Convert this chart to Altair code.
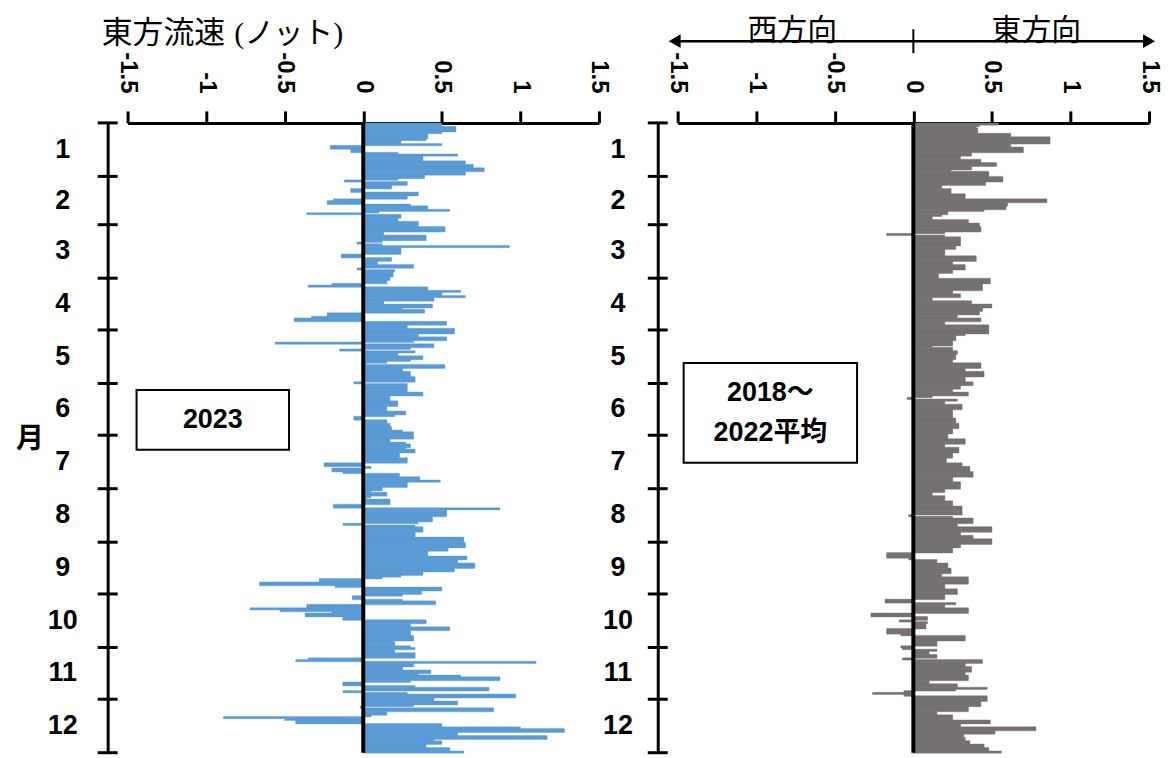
import altair as alt
import pandas as pd

# ---------------- data ----------------
month_labels = ["1", "2", "3", "4", "5", "6", "7", "8", "9", "10", "11", "12"]
month_days = [31, 28, 31, 30, 31, 30, 31, 31, 30, 31, 30, 31]
tick_values = [-1.5, -1, -0.5, 0, 0.5, 1, 1.5]

# 2023 daily eastward current (knots)
jan_2023 = [0.5, 0.5, 0.59, 0.59, 0.59, 0.5, 0.41, 0.41, 0.41, 0.4, 0.24, 0.24, 0.5, -0.21, -0.21, -0.08, -0.08, 0.22, 0.6, 0.38, 0.38, 0.38, 0.65, 0.65, 0.7, 0.7, 0.77, 0.77, 0.65, 0.65, 0.39]
feb_2023 = [0.39, 0.22, -0.12, 0.28, 0.28, 0.18, 0.18, -0.08, -0.08, 0.35, 0.35, 0.28, 0.28, -0.19, -0.23, -0.23, 0.3, 0.41, 0.41, 0.55, 0.1, -0.36, 0.24, 0.24, 0.22, 0.22, 0.35, 0.35]
mar_2023 = [0.35, 0.52, 0.52, 0.52, 0.13, 0.13, 0.4, 0.4, 0.4, 0.12, -0.04, 0.12, 0.93, 0.24, 0.24, 0.24, 0.24, -0.14, -0.14, 0.18, 0.18, 0.09, 0.09, 0.32, 0.32, -0.04, 0.2, 0.19, 0.19, 0.19, 0.17]
apr_2023 = [0.17, 0.15, 0.15, -0.2, -0.35, 0.41, 0.41, 0.62, 0.5, 0.5, 0.65, 0.45, 0.45, 0.13, 0.13, 0.44, 0.44, 0.25, 0.39, 0.39, -0.23, -0.23, -0.33, -0.44, -0.44, 0.53, 0.53, 0.28, 0.28, 0.58]
may_2023 = [0.58, 0.58, 0.35, 0.35, 0.53, 0.53, 0.32, -0.56, 0.45, 0.45, 0.3, -0.15, 0.33, 0.22, 0.22, 0.38, 0.38, 0.3, 0.15, 0.02, 0.52, 0.52, 0.25, 0.25, 0.3, 0.3, 0.3, 0.33, 0.33, 0.33, -0.06]
jun_2023 = [0.28, 0.28, 0.28, 0.28, 0.28, 0.38, 0.38, 0.17, 0.17, 0.17, 0.22, 0.22, 0.22, 0.15, 0.15, 0.15, 0.27, 0.27, 0.2, -0.06, -0.06, 0.15, 0.15, 0.17, 0.17, 0.18, 0.18, 0.25, 0.32, 0.32]
jul_2023 = [0.32, 0.32, 0.17, 0.17, 0.27, 0.3, 0.3, 0.27, 0.33, 0.33, 0.23, 0.23, 0.23, 0.28, 0.28, 0.28, -0.25, -0.25, 0.05, -0.2, -0.2, -0.13, 0.23, 0.23, 0.36, 0.36, 0.49, 0.28, 0.28, 0.28, 0.12]
aug_2023 = [0.12, 0.05, 0.15, 0.15, 0.05, 0.02, 0.17, 0.17, 0.17, -0.19, -0.19, 0.87, 0.53, 0.53, 0.53, 0.53, 0.44, 0.44, 0.44, 0.35, -0.13, 0.33, 0.38, 0.38, 0.38, 0.33, 0.33, 0.33, 0.64, 0.64, 0.64]
sep_2023 = [0.65, 0.65, 0.65, 0.54, 0.54, 0.41, 0.41, 0.41, 0.66, 0.66, 0.6, 0.6, 0.71, 0.71, 0.71, 0.58, 0.58, 0.38, 0.38, 0.24, 0.12, -0.28, -0.28, -0.66, -0.66, -0.18, 0.5, 0.5, 0.37, 0.37]
oct_2023 = [0.25, -0.07, -0.07, 0.25, 0.46, 0.46, -0.36, -0.36, -0.72, -0.53, -0.2, -0.37, -0.37, -0.13, -0.13, 0.4, 0.4, 0.3, 0.3, 0.55, 0.55, 0.3, 0.3, 0.3, 0.32, 0.32, 0.32, 0.2, 0.2, 0.2, 0.3]
nov_2023 = [0.33, 0.2, 0.2, 0.33, 0.33, 0.33, -0.35, -0.43, 1.1, 0.32, 0.32, 0.25, 0.25, 0.43, 0.43, 0.35, 0.62, 0.87, 0.87, 0.3, -0.13, -0.13, 0.33, 0.8, 0.8, -0.13, 0.28, 0.97, 0.97, 0.45]
dec_2023 = [0.45, 0.6, 0.6, 0.32, -0.02, 0.83, 0.83, 0.15, 0.15, 0.05, -0.89, -0.5, -0.43, -0.43, 0.5, 0.5, 1.0, 1.28, 1.28, 0.6, 0.6, 1.17, 1.17, 0.45, 0.5, 0.5, 0.4, 0.4, 0.55, 0.55, 0.64]

# 2018-2022 average daily eastward current (knots)
jan_avg = [0.54, 0.42, 0.4, 0.41, 0.41, 0.41, 0.62, 0.62, 0.87, 0.87, 0.87, 0.87, 0.62, 0.62, 0.7, 0.7, 0.7, 0.37, 0.37, 0.3, 0.3, 0.43, 0.43, 0.53, 0.53, 0.37, 0.37, 0.24, 0.48, 0.48, 0.48]
feb_avg = [0.57, 0.57, 0.57, 0.46, 0.46, 0.18, 0.18, 0.24, 0.24, 0.24, 0.33, 0.33, 0.33, 0.85, 0.85, 0.6, 0.6, 0.59, 0.59, 0.45, 0.22, 0.22, 0.18, 0.12, 0.12, 0.35, 0.35, 0.42]
mar_avg = [0.42, 0.43, 0.43, 0.43, 0.2, -0.17, 0.2, 0.3, 0.3, 0.3, 0.3, 0.3, 0.27, 0.27, 0.2, 0.2, 0.2, 0.2, 0.4, 0.4, 0.4, 0.25, 0.25, 0.33, 0.33, 0.33, 0.25, 0.25, 0.16, 0.16, 0.16]
apr_avg = [0.49, 0.49, 0.49, 0.44, 0.44, 0.44, 0.44, 0.25, 0.25, 0.3, 0.3, 0.12, 0.12, 0.37, 0.37, 0.5, 0.5, 0.44, 0.44, 0.42, 0.42, 0.28, 0.28, 0.43, 0.43, 0.2, 0.2, 0.48, 0.48, 0.48]
may_avg = [0.48, 0.48, 0.33, 0.27, 0.27, 0.27, 0.25, 0.25, 0.25, 0.12, 0.25, 0.25, 0.28, 0.28, 0.27, 0.27, 0.27, 0.25, 0.25, 0.43, 0.43, 0.43, 0.33, 0.33, 0.45, 0.45, 0.45, 0.33, 0.33, 0.33, 0.38]
jun_avg = [0.38, 0.3, 0.3, 0.25, 0.25, 0.35, 0.35, 0.12, -0.04, 0.28, 0.2, 0.2, 0.31, 0.31, 0.31, 0.25, 0.25, 0.25, 0.25, 0.25, 0.27, 0.27, 0.27, 0.29, 0.29, 0.29, 0.25, 0.25, 0.25, 0.22]
jul_avg = [0.22, 0.22, 0.33, 0.33, 0.33, 0.2, 0.2, 0.29, 0.29, 0.29, 0.25, 0.25, 0.25, 0.21, 0.21, 0.21, 0.31, 0.31, 0.36, 0.36, 0.36, 0.38, 0.38, 0.38, 0.25, 0.25, 0.25, 0.3, 0.3, 0.3, 0.3]
aug_avg = [0.2, 0.2, 0.12, 0.12, 0.2, 0.2, 0.2, 0.25, 0.25, 0.25, 0.31, 0.31, 0.31, 0.31, 0.31, -0.03, 0.25, 0.38, 0.38, 0.38, 0.28, 0.28, 0.5, 0.5, 0.5, 0.3, 0.3, 0.38, 0.38, 0.5, 0.5]
sep_avg = [0.5, 0.3, 0.3, 0.25, 0.25, 0.25, -0.17, -0.17, -0.17, -0.03, 0.15, 0.15, 0.22, 0.22, 0.22, 0.24, 0.24, 0.24, 0.18, 0.18, 0.35, 0.35, 0.35, 0.35, 0.2, 0.2, 0.2, 0.28, 0.28, 0.28]
oct_avg = [0.2, 0.2, 0.2, -0.18, -0.18, 0.27, 0.2, 0.2, 0.35, 0.35, 0.35, -0.27, -0.27, 0.09, 0.09, -0.09, 0.09, 0.08, 0.08, 0.08, -0.17, -0.17, -0.17, -0.08, 0.33, 0.33, 0.33, 0.15, 0.15, 0.15, -0.08]
nov_avg = [-0.07, 0.15, 0.1, 0.1, 0.15, 0.15, -0.07, 0.44, 0.44, 0.33, 0.33, 0.37, 0.37, 0.37, 0.33, 0.33, 0.35, 0.35, 0.35, 0.1, 0.1, 0.28, 0.28, 0.47, 0.27, -0.06, -0.26, -0.06, 0.47, 0.47]
dec_avg = [0.47, 0.43, 0.43, 0.43, 0.35, 0.35, 0.35, 0.15, 0.15, 0.25, 0.25, 0.25, 0.49, 0.49, 0.3, 0.3, 0.78, 0.78, 0.52, 0.52, 0.32, 0.32, 0.33, 0.33, 0.36, 0.36, 0.45, 0.45, 0.48, 0.48, 0.56]

series_2023 = [jan_2023, feb_2023, mar_2023, apr_2023, may_2023, jun_2023,
               jul_2023, aug_2023, sep_2023, oct_2023, nov_2023, dec_2023]
series_avg = [jan_avg, feb_avg, mar_avg, apr_avg, may_avg, jun_avg,
              jul_avg, aug_avg, sep_avg, oct_avg, nov_avg, dec_avg]


def daily_frame(months):
    vals = [v for m in months for v in m]
    df = pd.DataFrame({"d0": list(range(len(vals))), "v": vals})
    # each day's bar overlaps the next slightly so the bars read as one solid band
    df["d1"] = df["d0"] + 1.3
    df["zero"] = 0.0
    return df


df_2023 = daily_frame(series_2023)
df_avg = daily_frame(series_avg)

starts = [sum(month_days[:i]) for i in range(12)]
month_df = pd.DataFrame({
    "m": month_labels,
    "mid": [s + n / 2 for s, n in zip(starts, month_days)],
})
bound_df = pd.DataFrame({"b": starts + [sum(month_days)]})
one = pd.DataFrame({"k": [0]})

# ---------------- style ----------------
W, H = 473, 632
NUM_FONT = "Liberation Sans, Arial, Noto Sans CJK JP"
JP_FONT = "Noto Sans CJK JP"
BLUE = "#5B9BD5"
GRAY = "#767171"

xscale = alt.Scale(domain=[-1.5, 1.5], nice=False, zero=False)
yscale = alt.Scale(domain=[0, 365], reverse=True, nice=False, zero=False)

x_axis = alt.Axis(orient="top", values=tick_values, labelExpr="'' + datum.value",
                  labelAngle=90, labelFontSize=24, labelFont=NUM_FONT,
                  labelFontWeight="bold", labelColor="black", labelPadding=18,
                  tickSize=12, tickWidth=3, tickColor="black",
                  domainWidth=3, domainColor="black", grid=False, title=None)
y_axis = alt.Axis(orient="left", offset=20, domainWidth=3, domainColor="black",
                  ticks=False, labels=False, grid=False, title=None)


def panel(df, color, label_x, box, box_lines):
    bars = alt.Chart(df).mark_rect(color=color, stroke=color, strokeWidth=0.4).encode(
        x=alt.X("v:Q", scale=xscale, axis=x_axis),
        x2="zero:Q",
        y=alt.Y("d0:Q", scale=yscale, axis=y_axis),
        y2="d1:Q",
    )
    zero_line = alt.Chart(one).mark_rule(color="black", strokeWidth=4).encode(
        x=alt.X(datum=0, scale=xscale, axis=x_axis)
    )
    ticks = alt.Chart(bound_df).mark_rule(color="black", strokeWidth=3).encode(
        y=alt.Y("b:Q", scale=yscale, axis=y_axis),
        x=alt.value(-30), x2=alt.value(-10),
    )
    mlabels = alt.Chart(month_df).mark_text(
        fontSize=27, fontWeight="bold", font=NUM_FONT, align="center", baseline="middle"
    ).encode(
        y=alt.Y("mid:Q", scale=yscale, axis=y_axis),
        x=alt.value(label_x),
        text="m:N",
    )
    bx0, bx1, by0, by1 = box
    rect = alt.Chart(one).mark_rect(fill="white", stroke="black", strokeWidth=2).encode(
        x=alt.value(bx0), x2=alt.value(bx1), y=alt.value(by0), y2=alt.value(by1)
    )
    layers = [bars, zero_line, ticks, mlabels, rect]
    cx = (bx0 + bx1) / 2
    n = len(box_lines)
    cy = (by0 + by1) / 2
    for i, line in enumerate(box_lines):
        yy = cy + (i - (n - 1) / 2) * 40
        layers.append(
            alt.Chart(one).mark_text(fontSize=27, fontWeight="bold", font=NUM_FONT,
                                     align="center", baseline="middle").encode(
                x=alt.value(cx), y=alt.value(yy), text=alt.value(line))
        )
    return layers


left_layers = panel(df_2023, BLUE, -65, (9, 162, 268, 328), ["2023"])
# anchor the top-left corner of the drawing
anchor = alt.Chart(one).mark_rect(opacity=0).encode(
    x=alt.value(-120), x2=alt.value(-110), y=alt.value(-114), y2=alt.value(-104)
)
title_main = alt.Chart(one).mark_text(fontSize=31, font=JP_FONT, align="left",
                                      baseline="middle").encode(
    x=alt.value(-26), y=alt.value(-89), text=alt.value("東方流速"))
title_unit = alt.Chart(one).mark_text(fontSize=30, font="Liberation Serif, Noto Sans CJK JP",
                                      align="left", baseline="middle").encode(
    x=alt.value(107), y=alt.value(-89), text=alt.value("(ノット)"))
month_word = alt.Chart(one).mark_text(fontSize=28, fontWeight="bold", font=JP_FONT,
                                      align="center", baseline="middle").encode(
    x=alt.value(-98), y=alt.value(318), text=alt.value("月"))
left = alt.layer(anchor, *left_layers, title_main, title_unit, month_word).properties(
    width=W, height=H)

right_layers = panel(df_avg, GRAY, -60, (6, 180, 241, 341), ["2018～", "2022平均"])
arrow_line = alt.Chart(one).mark_rule(color="black", strokeWidth=2.5).encode(
    x=alt.value(-4), x2=alt.value(474), y=alt.value(-82))
arrow_l = alt.Chart(one).mark_point(shape="triangle-left", filled=True, size=190,
                                    color="black", opacity=1).encode(
    x=alt.value(-3), y=alt.value(-82))
arrow_r = alt.Chart(one).mark_point(shape="triangle-right", filled=True, size=190,
                                    color="black", opacity=1).encode(
    x=alt.value(473), y=alt.value(-82))
sep_tick = alt.Chart(one).mark_rule(color="black", strokeWidth=2).encode(
    x=alt.X(datum=0, scale=xscale, axis=x_axis), y=alt.value(-94), y2=alt.value(-70))
west = alt.Chart(one).mark_text(fontSize=30, font=JP_FONT, align="center",
                                baseline="middle").encode(
    x=alt.value(115), y=alt.value(-92), text=alt.value("西方向"))
east = alt.Chart(one).mark_text(fontSize=30, font=JP_FONT, align="center",
                                baseline="middle").encode(
    x=alt.value(360), y=alt.value(-92), text=alt.value("東方向"))
right_anchor = alt.Chart(one).mark_rect(opacity=0).encode(
    x=alt.value(476), x2=alt.value(481), y=alt.value(-30), y2=alt.value(-20))
right = alt.layer(*right_layers, arrow_line, arrow_l, arrow_r, sep_tick, west, east,
                  right_anchor).properties(width=W, height=H)

chart = alt.hconcat(left, right, spacing=79, bounds="flush").properties(
    padding={"left": 0, "top": 0, "right": 0, "bottom": 0},
    background="white",
).configure_view(stroke=None).configure_concat(spacing=79)

chart.save("out.html", embed_options={"renderer": "svg", "actions": False})
